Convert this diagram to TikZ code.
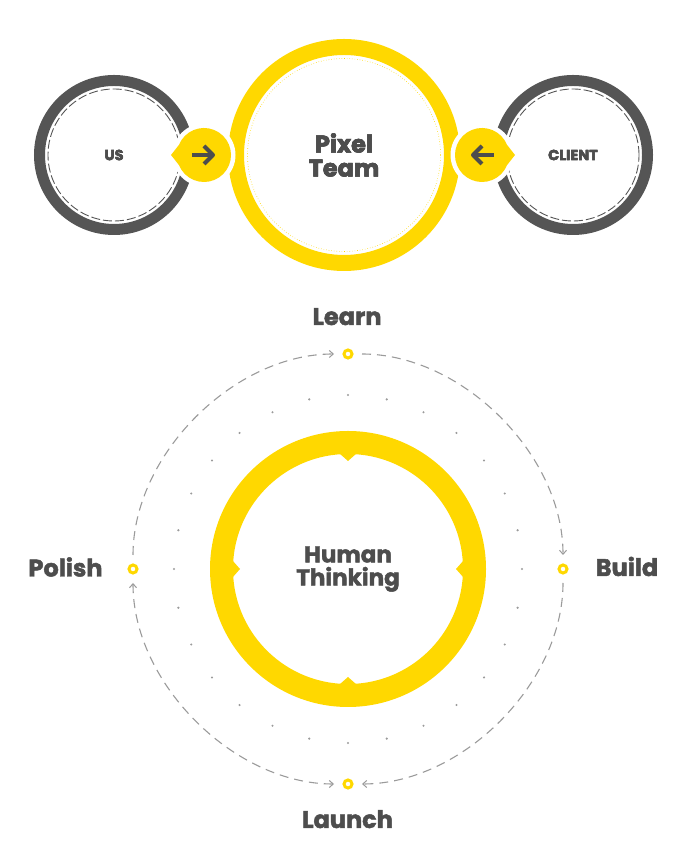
\documentclass[tikz,border=0pt]{standalone}
\usepackage{fontspec}
\setmainfont{Poppins}[BoldFeatures={FakeBold=2}]
\usetikzlibrary{arrows.meta,calc}

\definecolor{sun}{HTML}{FFD800}
\definecolor{slate}{HTML}{555555}
\definecolor{ink}{HTML}{4D4D4D}
\definecolor{mist}{HTML}{9B9B9B}

\begin{document}
\begin{tikzpicture}[x=1pt,y=1pt,
  side ring/.style={slate, line width=11pt},
  side dash/.style={slate, line width=0.9pt, dash pattern=on 9pt off 3pt},
  side text/.style={font=\fontsize{14.5}{14.5}\selectfont\bfseries, text=ink, inner sep=0pt},
  hub text/.style={font=\fontsize{24}{24}\selectfont\bfseries, text=ink, inner sep=0pt, align=center},
  core text/.style={font=\fontsize{23}{23}\selectfont\bfseries, text=ink, inner sep=0pt, align=center},
  stage label/.style={font=\fontsize{24}{24}\selectfont\bfseries, text=ink, inner sep=0pt, anchor=base},
  stage/.style={circle, draw=sun, line width=3pt, fill=white, minimum size=8pt, inner sep=0pt, outer sep=10pt},
  flow/.style={mist, line width=1.1pt, dash pattern=on 9pt off 6pt, bend left=45, looseness=0.9},
  flowtip/.tip={Straight Barb[length=4pt, width=7pt, line width=1pt]},
  pointer/.style={ink, line width=4pt, line join=round, line cap=butt}
]
\useasboundingbox (0,0) rectangle (684,861);

% ---------- top row: US -> Pixel Team <- CLIENT ----------
\node[side text] (us) at (114,706) {US};
\node[side text] (client) at (573,706) {CLIENT};
\node[hub text] (team) at (344,706) {Pixel\\Team};
\coordinate (usb) at (204,706);
\coordinate (clb) at (482,706);

% outer rings
\draw[side ring] (us.center) circle[radius=74.5];
\draw[side dash] (us.center) circle[radius=66];
\draw[side ring] (client.center) circle[radius=74.5];
\draw[side dash] (client.center) circle[radius=66];
\draw[sun, line width=16pt] (team.center) circle[radius=108];
\draw[sun, line width=0.6pt, dotted] (team.center) circle[radius=96.5];

% speech bubbles with their white halo
\fill[white] (usb) circle[radius=31.5];
\fill[white] (clb) circle[radius=31.5];
\fill[sun] ($(usb)+(-33,0)$) -- ($(usb)+(158:27)$)
  arc[start angle=158, end angle=-158, radius=27] -- cycle;
\fill[sun] ($(clb)+(33,0)$) -- ($(clb)+(22:27)$)
  arc[start angle=22, end angle=338, radius=27] -- cycle;

% arrows inside the bubbles
\draw[pointer] ($(usb)+(-12,0)$) -- ($(usb)+(9,0)$);
\draw[pointer] ($(usb)+(0,9)$) -- ($(usb)+(9,0)$) -- ($(usb)+(0,-9)$);
\draw[pointer] ($(clb)+(12,0)$) -- ($(clb)+(-9,0)$);
\draw[pointer] ($(clb)+(0,9)$) -- ($(clb)+(-9,0)$) -- ($(clb)+(0,-9)$);

% repaint the labels above the rings
\node[side text] at (us) {US};
\node[side text] at (client) {CLIENT};
\node[hub text] at (team) {Pixel\\Team};

% ---------- bottom: Human Thinking cycle ----------
\coordinate (core) at (348,292);
\draw[sun, line width=23pt] (core) circle[radius=126.5];
\foreach \a in {0,90,180,270}
  \fill[sun] ($(core)+(\a-4.3:116)$) -- ($(core)+(\a:108)$) -- ($(core)+(\a+4.3:116)$) -- cycle;
\node[core text] (think) at (core) {Human\\Thinking};

% ring of small dots
\foreach \i in {0,...,27}
  \fill[mist] ($(core)+({90+\i*360/28}:174)$) circle[radius=1.2];

% the four stages
\node[stage] (learn)  at ($(core)+(0,215)$) {};
\node[stage] (build)  at ($(core)+(215,0)$) {};
\node[stage] (launch) at ($(core)+(0,-215)$) {};
\node[stage] (polish) at ($(core)+(-215,0)$) {};

\draw[flow, -{flowtip}] (polish) to (learn);
\draw[flow, -{flowtip}] (learn) to (build);
\draw[flow, -{flowtip}] (build) to (launch);
\draw[flow, {flowtip}-{flowtip}] (launch) to (polish);

\node[stage label] at (347,536) {Learn};
\node[stage label] at (627,285) {Build};
\node[stage label] at (347.5,33) {Launch};
\node[stage label] at (65.5,284.5) {Polish};
\end{tikzpicture}
\end{document}
